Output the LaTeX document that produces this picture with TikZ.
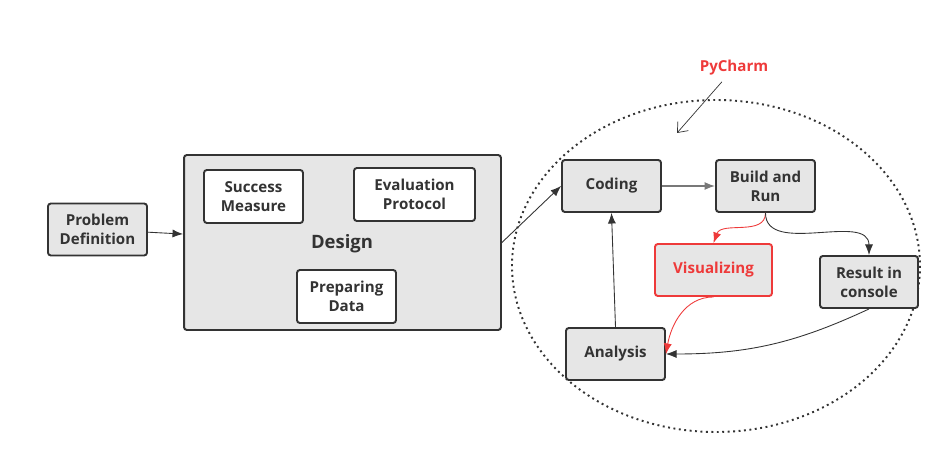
\documentclass[tikz,border=0pt]{standalone}
\usepackage{fontspec}
\setmainfont{Open Sans}
\usetikzlibrary{arrows.meta}
\definecolor{boxgray}{RGB}{230,230,230}
\definecolor{inkdark}{RGB}{51,51,51}
\definecolor{charmred}{RGB}{238,58,58}
\definecolor{linegray}{RGB}{120,120,120}

\begin{document}
\begin{tikzpicture}[x=0.02cm, y=-0.02cm,
    stepbox/.style={draw=inkdark, fill=boxgray, line width=1.1pt, rounded corners=1.6pt, align=center,
        text=inkdark, font=\fontsize{8.6}{10.8}\selectfont\bfseries, minimum height=1.04cm, inner sep=0pt},
    subbox/.style={stepbox, fill=white},
    flow/.style={-{Latex[length=6pt,width=4.6pt]}, inkdark, line width=0.5pt},
    redflow/.style={-{Latex[length=6pt,width=4.6pt]}, charmred, line width=0.5pt}]
        \useasboundingbox (0,0) rectangle (950,462);

        % IDE region
        \draw[dotted, line width=1.1pt, inkdark] (716,266) ellipse [x radius=204, y radius=166];

        % NODES
        \node[stepbox, minimum width=1.98cm] (prob) at (97.5,229.5) {Problem\\Definition};

        \node[stepbox, minimum width=6.34cm, minimum height=3.5cm] (design) at (342.5,242.5) {};
        \node[inkdark, font=\fontsize{10.5}{12}\selectfont\bfseries] (designlbl) at (342,244) {Design};
        \node[subbox, minimum width=1.98cm, minimum height=1.06cm] (succ) at (253.5,196.5) {Success\\Measure};
        \node[subbox, minimum width=2.42cm, minimum height=1.06cm] (evalp) at (414.5,194.5) {Evaluation\\Protocol};
        \node[subbox, minimum width=1.98cm, minimum height=1.06cm] (prep) at (346.5,296.5) {Preparing\\Data};

        \node[stepbox, minimum width=1.98cm] (coding) at (611.5,186) {Coding};
        \node[stepbox, minimum width=1.98cm] (build) at (765.5,186) {Build and\\Run};
        \node[stepbox, draw=charmred, text=charmred, minimum width=2.34cm] (vis) at (713.5,270) {Visualizing};
        \node[stepbox, minimum width=1.96cm] (result) at (869,282) {Result in\\console};
        \node[stepbox, minimum width=1.98cm] (analysis) at (615.5,354) {Analysis};

        \node[charmred, font=\fontsize{8.6}{10.8}\selectfont\bfseries] (py) at (734,68) {PyCharm};
        \coordinate (pytip) at (677,133);

        % Connectors
        \draw[flow] (prob) -- (design);
        \draw[flow] (design.east) -- (coding.west);
        \draw[flow, linegray, line width=0.8pt] (coding) -- (build);
        \draw[redflow] (build.south) to[out=-90, in=70] (vis.north);
        \draw[flow] (build.south) to[out=-90, in=90] (result.north);
        \draw[flow] (result.south) to[out=-155, in=0] (analysis.east);
        \draw[redflow] (vis.south) to[out=180, in=80] (analysis.east);
        \draw[flow] (analysis.north) -- (coding.south);
        \draw[-{Straight Barb[length=5pt,width=8pt]}, inkdark, line width=0.4pt] (py) -- (pytip);

    \end{tikzpicture}
\end{document}
